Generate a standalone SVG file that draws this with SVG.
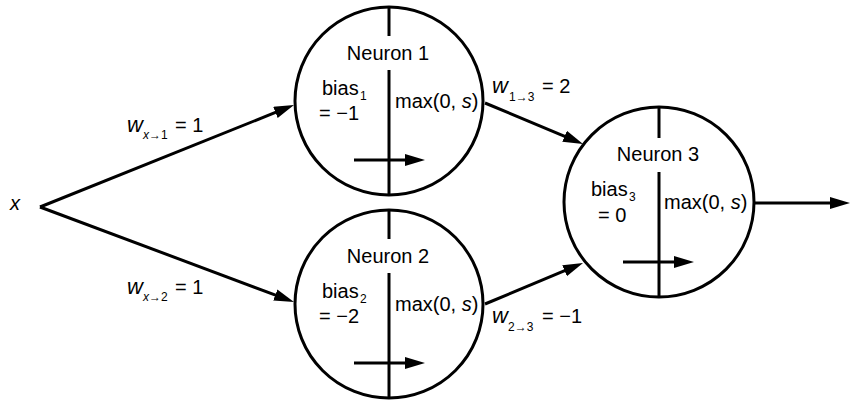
<svg xmlns="http://www.w3.org/2000/svg" width="851" height="403" viewBox="0 0 851 403">
<style>
text{font-family:"Liberation Sans",Arial,sans-serif;font-size:20px;fill:#000}
.sub{font-size:12px}
.it{font-style:italic}
.w{font-size:22px;font-style:italic}
.c{fill:#fff;stroke:#000;stroke-width:3}
.l{stroke:#000;stroke-width:3;fill:none}
.a{stroke:#000;stroke-width:3;fill:none;marker-end:url(#ah)}
</style>
<defs>
<marker id="ah" markerUnits="userSpaceOnUse" markerWidth="22" markerHeight="14" viewBox="0 0 22 14" refX="6" refY="6" orient="auto">
<path d="M0,0 L20,6 L0,12 z" fill="#000"/>
</marker>
</defs>
<rect width="851" height="403" fill="#fff"/>
<g id="connectors">
<line class="a" x1="40" y1="207" x2="281" y2="110.2"/>
<line class="a" x1="40" y1="207" x2="280.9" y2="297.1"/>
<line class="a" x1="485" y1="103" x2="570.1" y2="138.6"/>
<line class="a" x1="485" y1="304" x2="570.1" y2="268.4"/>
<line class="a" x1="754" y1="203" x2="836" y2="203"/>
</g>
<g id="input">
<text class="it" x="10" y="210">x</text>
</g>
<g id="labels">
<text class="w" x="127" y="132">w</text>
<text class="sub" x="143" y="139"><tspan class="it">x</tspan>→1</text>
<text x="175" y="132">= 1</text>
<text class="w" x="127" y="294">w</text>
<text class="sub" x="143" y="301"><tspan class="it">x</tspan>→2</text>
<text x="175" y="294">= 1</text>
<text class="w" x="492" y="93">w</text>
<text class="sub" x="509" y="101">1→3</text>
<text x="542" y="93">= 2</text>
<text class="w" x="492" y="323">w</text>
<text class="sub" x="508" y="331">2→3</text>
<text x="542" y="323">= −1</text>
</g>
<g id="neuron1">
<circle class="c" cx="389" cy="101" r="94"/>
<line class="l" x1="389" y1="7" x2="389" y2="36"/>
<line class="l" x1="389" y1="70" x2="389" y2="195"/>
<text x="388" y="60" text-anchor="middle">Neuron 1</text>
<text x="322" y="95">bias</text>
<text class="sub" x="360" y="100">1</text>
<text x="319" y="120">= −1</text>
<text x="395" y="108">max(0, <tspan class="it">s</tspan>)</text>
<line class="a" x1="354" y1="160" x2="411" y2="160"/>
</g>
<g id="neuron2">
<circle class="c" cx="389" cy="304" r="94"/>
<line class="l" x1="389" y1="210" x2="389" y2="239"/>
<line class="l" x1="389" y1="273" x2="389" y2="398"/>
<text x="388" y="263" text-anchor="middle">Neuron 2</text>
<text x="322" y="298">bias</text>
<text class="sub" x="360" y="303">2</text>
<text x="319" y="323">= −2</text>
<text x="395" y="311">max(0, <tspan class="it">s</tspan>)</text>
<line class="a" x1="354" y1="363" x2="411" y2="363"/>
</g>
<g id="neuron3">
<circle class="c" cx="659" cy="202" r="95"/>
<line class="l" x1="659" y1="107" x2="659" y2="138"/>
<line class="l" x1="659" y1="172" x2="659" y2="297"/>
<text x="658" y="161" text-anchor="middle">Neuron 3</text>
<text x="591" y="196">bias</text>
<text class="sub" x="629" y="201">3</text>
<text x="598" y="222">= 0</text>
<text x="664" y="209">max(0, <tspan class="it">s</tspan>)</text>
<line class="a" x1="623" y1="262" x2="680" y2="262"/>
</g>
</svg>
